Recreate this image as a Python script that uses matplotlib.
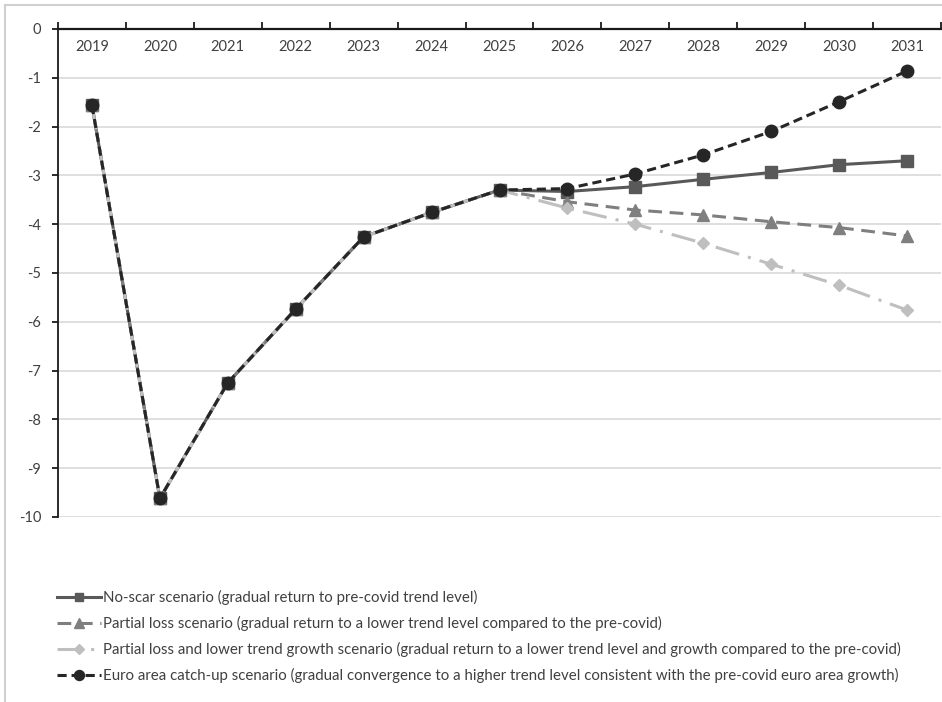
import matplotlib
matplotlib.use("Agg")
import matplotlib.pyplot as plt
from matplotlib.patches import Rectangle
import numpy as np

years = ["2019", "2020", "2021", "2022", "2023", "2024", "2025",
         "2026", "2027", "2028", "2029", "2030", "2031"]

history = [-1.56, -9.62, -7.25, -5.74, -4.26, -3.76, -3.30]

no_scar = [-3.33, -3.23, -3.08, -2.94, -2.78, -2.70]
partial_loss = [-3.54, -3.71, -3.81, -3.95, -4.07, -4.24]
partial_loss_lower_growth = [-3.67, -4.00, -4.39, -4.82, -5.25, -5.76]
euro_catch_up = [-3.27, -2.97, -2.58, -2.10, -1.49, -0.86]

labels = [
    "No-scar scenario (gradual return to pre-covid trend level)",
    "Partial loss scenario (gradual return to a lower trend level compared to the pre-covid)",
    "Partial loss and lower trend growth scenario (gradual return to a lower trend level and growth compared to the pre-covid)",
    "Euro area catch-up scenario (gradual convergence to a higher trend level consistent with the pre-covid euro area growth)",
]

plt.rcParams["font.family"] = ["Lato", "DejaVu Sans"]
plt.rcParams["axes.unicode_minus"] = False
text_color = "#404040"

fig = plt.figure(figsize=(9.42, 7.02), dpi=100)
fig.patches.append(Rectangle((5 / 942, -0.1), 1.2, 1 - 5 / 702 + 0.1,
                             transform=fig.transFigure, fill=False,
                             edgecolor="#d0d0d0", linewidth=1.5))

ax = fig.add_axes([58 / 942, 1 - 517 / 702, 883 / 942, 488 / 702])
x = np.arange(len(years))

series = [
    (no_scar, dict(color="#595959", linestyle="-", marker="s", markersize=8,
                   linewidth=2.2)),
    (partial_loss, dict(color="#7f7f7f", linestyle=(0, (4.5, 2.5)), marker="^",
                        markersize=8.5, linewidth=2.2)),
    (partial_loss_lower_growth, dict(color="#bfbfbf", linestyle=(0, (8, 3, 1, 3)),
                                     marker="D", markersize=6, linewidth=2.2)),
    (euro_catch_up, dict(color="#262626", linestyle=(0, (3, 1.6)), marker="o",
                         markersize=9, linewidth=2.2)),
]

for (vals, style), label in zip(series, labels):
    ax.plot(x, history + vals, label=label, **style)

ax.set_xlim(-0.5, len(years) - 0.5)
ax.set_ylim(-10, 0)

# category axis sits on the zero line at the top
ax.spines["right"].set_visible(False)
ax.spines["bottom"].set_visible(False)
ax.spines["top"].set_color("#1a1a1a")
ax.spines["top"].set_linewidth(1.6)
ax.spines["left"].set_color("#1a1a1a")
ax.spines["left"].set_linewidth(1.3)

ax.xaxis.tick_top()
ax.set_xticks(np.arange(-0.5, len(years), 1))
ax.set_xticklabels([])
ax.tick_params(axis="x", direction="out", length=5, width=1.3, color="#1a1a1a")
for xi, yr in zip(x, years):
    ax.text(xi, -0.37, yr, ha="center", va="center", fontsize=10.5,
            color=text_color)

yticks = np.arange(0, -11, -1)
ax.set_yticks(yticks)
ax.set_yticklabels([str(v) for v in yticks])
ax.tick_params(axis="y", direction="out", length=4, width=1.3, color="#1a1a1a",
               labelsize=10.5, labelcolor=text_color, pad=8)
ax.yaxis.grid(True, color="#d9d9d9", linewidth=1.2)
ax.set_axisbelow(True)

leg = fig.legend(loc="upper left", bbox_to_anchor=(57 / 942, 1 - 590 / 702),
                 frameon=False, fontsize=10.85, handlelength=2.9,
                 handletextpad=0.15, labelspacing=0.72, borderaxespad=0,
                 borderpad=0, markerscale=0.8)
for t in leg.get_texts():
    t.set_color(text_color)

fig.savefig("out.png", dpi=100)
